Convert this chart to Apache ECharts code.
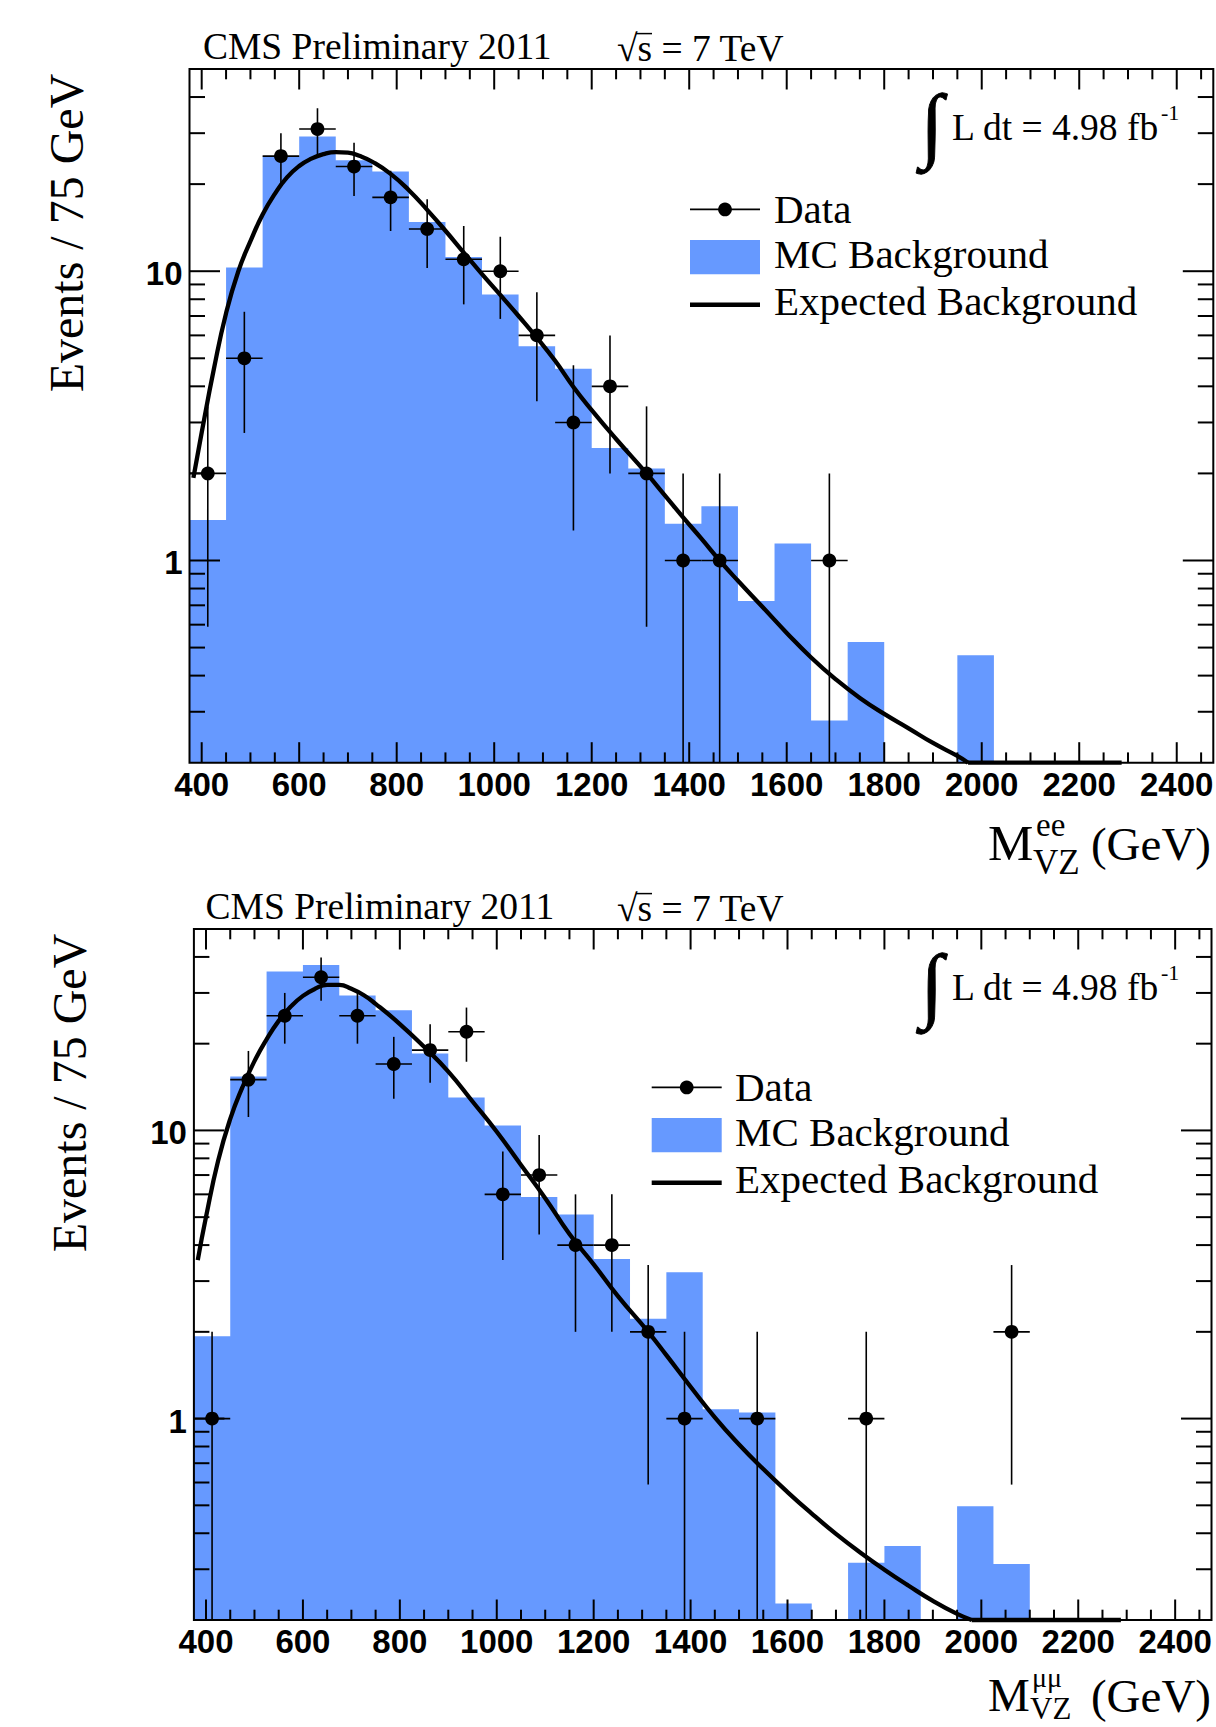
<!DOCTYPE html>
<html>
<head>
<meta charset="utf-8">
<script src="https://cdn.jsdelivr.net/npm/echarts@6/dist/echarts.min.js"></script>
<style>
  html, body { margin: 0; padding: 0; background: #ffffff; }
  #chart { width: 1216px; height: 1727px; }
</style>
</head>
<body>
<div id="chart"></div>
<script>
// ---- binning: 75 GeV bins, lower edges ----
const binLow = [375, 450, 525, 600, 675, 750, 825, 900, 975, 1050, 1125, 1200, 1275, 1350,
                1425, 1500, 1575, 1650, 1725, 1800, 1875, 1950, 2025, 2100, 2175, 2250, 2325, 2400];
const binWidth = 75;

// ---- ee channel ----
const mcEE   = [1.38, 10.3, 24.9, 29.2, 24.2, 22.1, 14.8, 11.2, 8.31, 5.50, 4.60, 2.45, 2.08, 1.34,
                1.54, 0.724, 1.145, 0.280, 0.523, 0, 0, 0.470, 0, 0, 0, 0, 0, 0];
const dataEE = [2, 5, 25, 31, 23, 18, 14, 11, 10, 6, 3, 4, 2, 1, 1, 0, 0, 1, 0, 0, 0, 0, 0, 0, 0, 0, 0, 0];
const errEE  = [1.41, 2.24, 5, 5.57, 4.8, 4.24, 3.74, 3.32, 3.16, 2.45, 1.73, 2, 1.41, 1, 1, 0, 0, 1,
                0, 0, 0, 0, 0, 0, 0, 0, 0, 0];
// expected background shape; below the axis floor it is drawn along the floor
const fitEE  = [[383, 1.93], [400, 2.77], [425, 4.59], [450, 7.16], [475, 9.98], [500, 12.7],
                [525, 15.7], [550, 18.5], [575, 21.1], [600, 23.1], [625, 24.5], [650, 25.4],
                [675, 25.8], [700, 25.7], [725, 25.0], [750, 23.9], [787.5, 21.7], [825, 19.05],
                [862.5, 16.3], [900, 13.8], [937.5, 11.6], [975, 9.77], [1012.5, 8.28], [1050, 7.0],
                [1087.5, 5.89], [1125, 4.9], [1162.5, 3.98], [1200, 3.31], [1250, 2.63], [1312.5, 2.0],
                [1350, 1.68], [1387.5, 1.41], [1425, 1.19], [1462.5, 1.0], [1500, 0.851], [1550, 0.692],
                [1600, 0.562], [1650, 0.462], [1700, 0.389], [1750, 0.335], [1800, 0.295],
                [1850, 0.263], [1900, 0.234], [1950, 0.211], [1972, 0.2]];
const floorEE = [[1972, 0.2], [2287, 0.2]];

// ---- mumu channel ----
const mcMM   = [1.93, 15.4, 35.6, 37.5, 29.4, 26.1, 18.5, 13.0, 10.4, 5.88, 5.11, 3.58, 2.22, 3.22,
                1.078, 1.05, 0.228, 0, 0.316, 0.361, 0, 0.496, 0.313, 0, 0, 0, 0, 0];
const dataMM = [1, 15, 25, 34, 25, 17, 19, 22, 6, 7, 4, 4, 2, 1, 0, 1, 0, 0, 1, 0, 0, 0, 2, 0, 0, 0, 0, 0];
const errMM  = [1, 3.87, 5, 5.83, 5, 4.12, 4.36, 4.69, 2.45, 2.65, 2, 2, 1.41, 1, 0, 1, 0, 0, 1,
                0, 0, 0, 1.41, 0, 0, 0, 0, 0];
const fitMM  = [[383, 3.55], [400, 5.01], [425, 7.85], [450, 10.96], [475, 14.1], [500, 17.4],
                [525, 20.7], [550, 24.0], [575, 26.9], [600, 29.3], [625, 31.0], [650, 32.0],
                [675, 32.0], [700, 31.0], [725, 29.5], [750, 27.5], [800, 23.4], [850, 19.5],
                [900, 16.0], [950, 12.6], [1000, 9.89], [1050, 7.59], [1100, 5.82], [1150, 4.37],
                [1200, 3.43], [1250, 2.66], [1312.5, 2.0], [1350, 1.66], [1400, 1.29], [1450, 1.01],
                [1500, 0.813], [1550, 0.668], [1600, 0.556], [1650, 0.468], [1700, 0.398],
                [1750, 0.343], [1800, 0.299], [1850, 0.263], [1900, 0.233], [1950, 0.21], [1980, 0.2]];
const floorMM = [[1980, 0.2], [2288, 0.2]];

// ---- axes ----
const xMin = 375, xMax = 2475, yMin = 0.2, yMax = 50;
const xMajor = [400, 600, 800, 1000, 1200, 1400, 1600, 1800, 2000, 2200, 2400];
const xMinor = [450, 500, 550, 650, 700, 750, 850, 900, 950, 1050, 1100, 1150, 1250, 1300, 1350,
                1450, 1500, 1550, 1650, 1700, 1750, 1850, 1900, 1950, 2050, 2100, 2150, 2250, 2300,
                2350, 2450];
const yMajor = [1, 10];
const yMinor = [0.3, 0.4, 0.5, 0.6, 0.7, 0.8, 0.9, 2, 3, 4, 5, 6, 7, 8, 9, 20, 30, 40];

const BLUE = '#6699ff';
const SERIF = '"Liberation Serif", "Times New Roman", serif';
const SANS = '"Liberation Sans", Arial, Helvetica, sans-serif';

// grid rectangles of the two pads
const pads = [
  { left: 189.5, top: 69, width: 1023.8, height: 693.7, labelGap: 22 },
  { left: 193.9, top: 929, width: 1017.6, height: 691, labelGap: 21 }
];

function seg(x1, y1, x2, y2, w) {
  return { type: 'line', shape: { x1, y1, x2, y2 }, style: { stroke: '#000', lineWidth: w || 2 } };
}

// stepped histogram outline as one polygon
function histRender(values) {
  return function (params, api) {
    const pts = [];
    pts.push(api.coord([binLow[0], yMin]));
    for (let i = 0; i < binLow.length; i++) {
      const v = values[i] > yMin ? values[i] : yMin;
      pts.push(api.coord([binLow[i], v]));
      pts.push(api.coord([binLow[i] + binWidth, v]));
    }
    pts.push(api.coord([binLow[binLow.length - 1] + binWidth, yMin]));
    return { type: 'polygon', shape: { points: pts }, style: { fill: BLUE, stroke: null } };
  };
}

// data points with error bars (lower end stops at the axis floor)
function dataRender(params, api) {
  const xc = api.value(0), n = api.value(1), e = api.value(2);
  const p = api.coord([xc, n]);
  const lo = n - e > yMin ? n - e : yMin;
  const pLo = api.coord([xc, lo]);
  const pHi = api.coord([xc, n + e]);
  const pL = api.coord([xc - binWidth / 2, n]);
  const pR = api.coord([xc + binWidth / 2, n]);
  return {
    type: 'group',
    children: [
      seg(p[0], pHi[1], p[0], pLo[1], 1.6),
      seg(pL[0], p[1], pR[0], p[1], 1.6),
      { type: 'circle', shape: { cx: p[0], cy: p[1], r: 6.9 }, style: { fill: '#000' } }
    ]
  };
}

// frame, inward ticks on all four sides, tick labels
function frameRender(labelGap) {
  return function (params, api) {
    const cs = params.coordSys;
    const L = cs.x, T = cs.y, R = cs.x + cs.width, B = cs.y + cs.height;
    const ch = [];
    xMajor.forEach(v => {
      const px = api.coord([v, yMin])[0];
      ch.push(seg(px, B, px, B - 20.5, 2), seg(px, T, px, T + 20.5, 2));
      ch.push({ type: 'text', style: { text: String(v), x: px, y: B + labelGap, font: 'bold 33px ' + SANS,
                fill: '#000', textAlign: 'center', textVerticalAlign: 'middle' } });
    });
    xMinor.forEach(v => {
      const px = api.coord([v, yMin])[0];
      ch.push(seg(px, B, px, B - 10.3, 2), seg(px, T, px, T + 10.3, 2));
    });
    yMajor.forEach(v => {
      const py = api.coord([xMin, v])[1];
      ch.push(seg(L, py, L + 30.5, py, 2), seg(R, py, R - 30.5, py, 2));
      ch.push({ type: 'text', style: { text: String(v), x: L - 7, y: py + 2.5, font: 'bold 33px ' + SANS,
                fill: '#000', textAlign: 'right', textVerticalAlign: 'middle' } });
    });
    yMinor.forEach(v => {
      const py = api.coord([xMin, v])[1];
      ch.push(seg(L, py, L + 15.5, py, 2), seg(R, py, R - 15.5, py, 2));
    });
    ch.push({ type: 'rect', shape: { x: L, y: T, width: cs.width, height: cs.height },
              style: { fill: 'none', stroke: '#000', lineWidth: 2 } });
    return { type: 'group', children: ch };
  };
}

function pointsOf(counts, errs) {
  const out = [];
  counts.forEach((n, i) => { if (n > 0) out.push([binLow[i] + binWidth / 2, n, errs[i]]); });
  return out;
}

const grids = pads.map(p => ({ left: p.left, top: p.top, width: p.width, height: p.height,
                                show: false, outerBoundsMode: 'none' }));
const hidden = { axisLine: { show: false }, axisTick: { show: false }, axisLabel: { show: false },
                 splitLine: { show: false } };
const xAxes = pads.map((p, i) => Object.assign({ gridIndex: i, type: 'value', min: xMin, max: xMax }, hidden));
const yAxes = pads.map((p, i) => Object.assign({ gridIndex: i, type: 'log', logBase: 10, min: yMin, max: yMax }, hidden));

const channels = [
  { mc: mcEE, counts: dataEE, errs: errEE, fit: fitEE, floor: floorEE },
  { mc: mcMM, counts: dataMM, errs: errMM, fit: fitMM, floor: floorMM }
];

const curveStyle = { color: '#000', width: 4.3 };
const series = [];
channels.forEach((c, i) => {
  series.push({ type: 'custom', name: 'MC Background', xAxisIndex: i, yAxisIndex: i, data: [[xMin, 1]],
                renderItem: histRender(c.mc), clip: true, silent: true, z: 1 });
  series.push({ type: 'line', name: 'Expected Background', xAxisIndex: i, yAxisIndex: i, data: c.fit,
                showSymbol: false, smooth: 0.5, clip: false, silent: true, lineStyle: curveStyle, z: 3 });
  series.push({ type: 'line', name: 'Expected Background', xAxisIndex: i, yAxisIndex: i, data: c.floor,
                showSymbol: false, clip: false, silent: true, lineStyle: curveStyle, z: 3 });
  series.push({ type: 'custom', name: 'Data', xAxisIndex: i, yAxisIndex: i, data: pointsOf(c.counts, c.errs),
                renderItem: dataRender, clip: true, silent: true, z: 4 });
  series.push({ type: 'custom', name: 'frame', xAxisIndex: i, yAxisIndex: i, data: [[xMin, 1]],
                renderItem: frameRender(pads[i].labelGap), clip: false, silent: true, z: 5 });
});

// ---- annotations, legends and axis titles ----
function txt(text, x, y, size, extraStyle) {
  return { type: 'text', silent: true, z: 10,
    style: Object.assign({ text, x, y, font: size + 'px ' + SERIF, fill: '#000',
                           textAlign: 'left', textVerticalAlign: 'middle' }, extraStyle || {}) };
}

function padDecor(dy, cmsX, legX, legTextX, legBase) {
  const els = [];
  els.push(txt('CMS Preliminary 2011', cmsX, 46.5 + dy, 37.5));
  els.push(txt('\u221As = 7 TeV', 617, 48.5 + dy, 37.5));
  els.push({ type: 'line', silent: true, z: 10, shape: { x1: 636, y1: 33.6 + dy, x2: 652, y2: 33.6 + dy },
             style: { stroke: '#000', lineWidth: 1.5 } });
  els.push(txt('\u222B', 920.5, 123.9 + dy, 83, { stroke: '#000', lineWidth: 0.9 }));
  els.push(txt('L dt = 4.98 fb', 952, 127.3 + dy, 37.5));
  els.push(txt('-1', 1161, 112 + dy, 22));
  // legend
  const rowY = [legBase, legBase + 45.3, legBase + 92];
  els.push({ type: 'line', z: 10, silent: true, shape: { x1: legX, y1: rowY[0] - 13.3, x2: legX + 70, y2: rowY[0] - 13.3 },
             style: { stroke: '#000', lineWidth: 1.6 } });
  els.push({ type: 'circle', z: 10, silent: true, shape: { cx: legX + 35, cy: rowY[0] - 13.3, r: 6.9 }, style: { fill: '#000' } });
  els.push({ type: 'rect', z: 10, silent: true, shape: { x: legX, y: rowY[1] - 28, width: 70, height: 34.2 }, style: { fill: BLUE } });
  els.push({ type: 'line', z: 10, silent: true, shape: { x1: legX, y1: rowY[2] - 10, x2: legX + 70, y2: rowY[2] - 10 },
             style: { stroke: '#000', lineWidth: 4.5 } });
  els.push(txt('Data', legTextX, rowY[0] - 14, 41));
  els.push(txt('MC Background', legTextX, rowY[1] - 14, 41));
  els.push(txt('Expected Background', legTextX, rowY[2] - 14, 41));
  return els;
}

const graphic = [];
padDecor(0, 203, 690, 774, 222.7).forEach(e => graphic.push(e));
padDecor(860, 205.6, 651.7, 735, 1100.7).forEach(e => graphic.push(e));

// y-axis titles
[[66, 233], [69, 1093]].forEach(([x, y]) => {
  graphic.push({ type: 'text', silent: true, z: 10, x, y, rotation: Math.PI / 2,
    style: { text: 'Events / 75 GeV', x: 0, y: 0, font: '48px ' + SERIF, fill: '#000',
             textAlign: 'center', textVerticalAlign: 'middle' } });
});

// x-axis titles: M with channel superscript and VZ subscript
// upper pad
[
  txt('M', 988, 842.5, 51),
  txt('ee', 1036, 825, 33),
  txt('VZ', 1033, 862, 35),
  txt('(GeV)', 1211, 844, 47, { textAlign: 'right' })
].forEach(e => graphic.push(e));
// lower pad, kept between the tick labels and the page edge
[
  txt('M', 988, 1695, 47),
  txt('\u03BC\u03BC', 1032, 1677, 28),
  txt('VZ', 1030, 1708, 31),
  txt('(GeV)', 1211, 1696, 47, { textAlign: 'right' })
].forEach(e => graphic.push(e));

const chart = echarts.init(document.getElementById('chart'), null, { renderer: 'svg', width: 1216, height: 1727 });
chart.setOption({
  animation: false,
  backgroundColor: '#ffffff',
  grid: grids,
  xAxis: xAxes,
  yAxis: yAxes,
  series: series,
  graphic: graphic
});
</script>
</body>
</html>
